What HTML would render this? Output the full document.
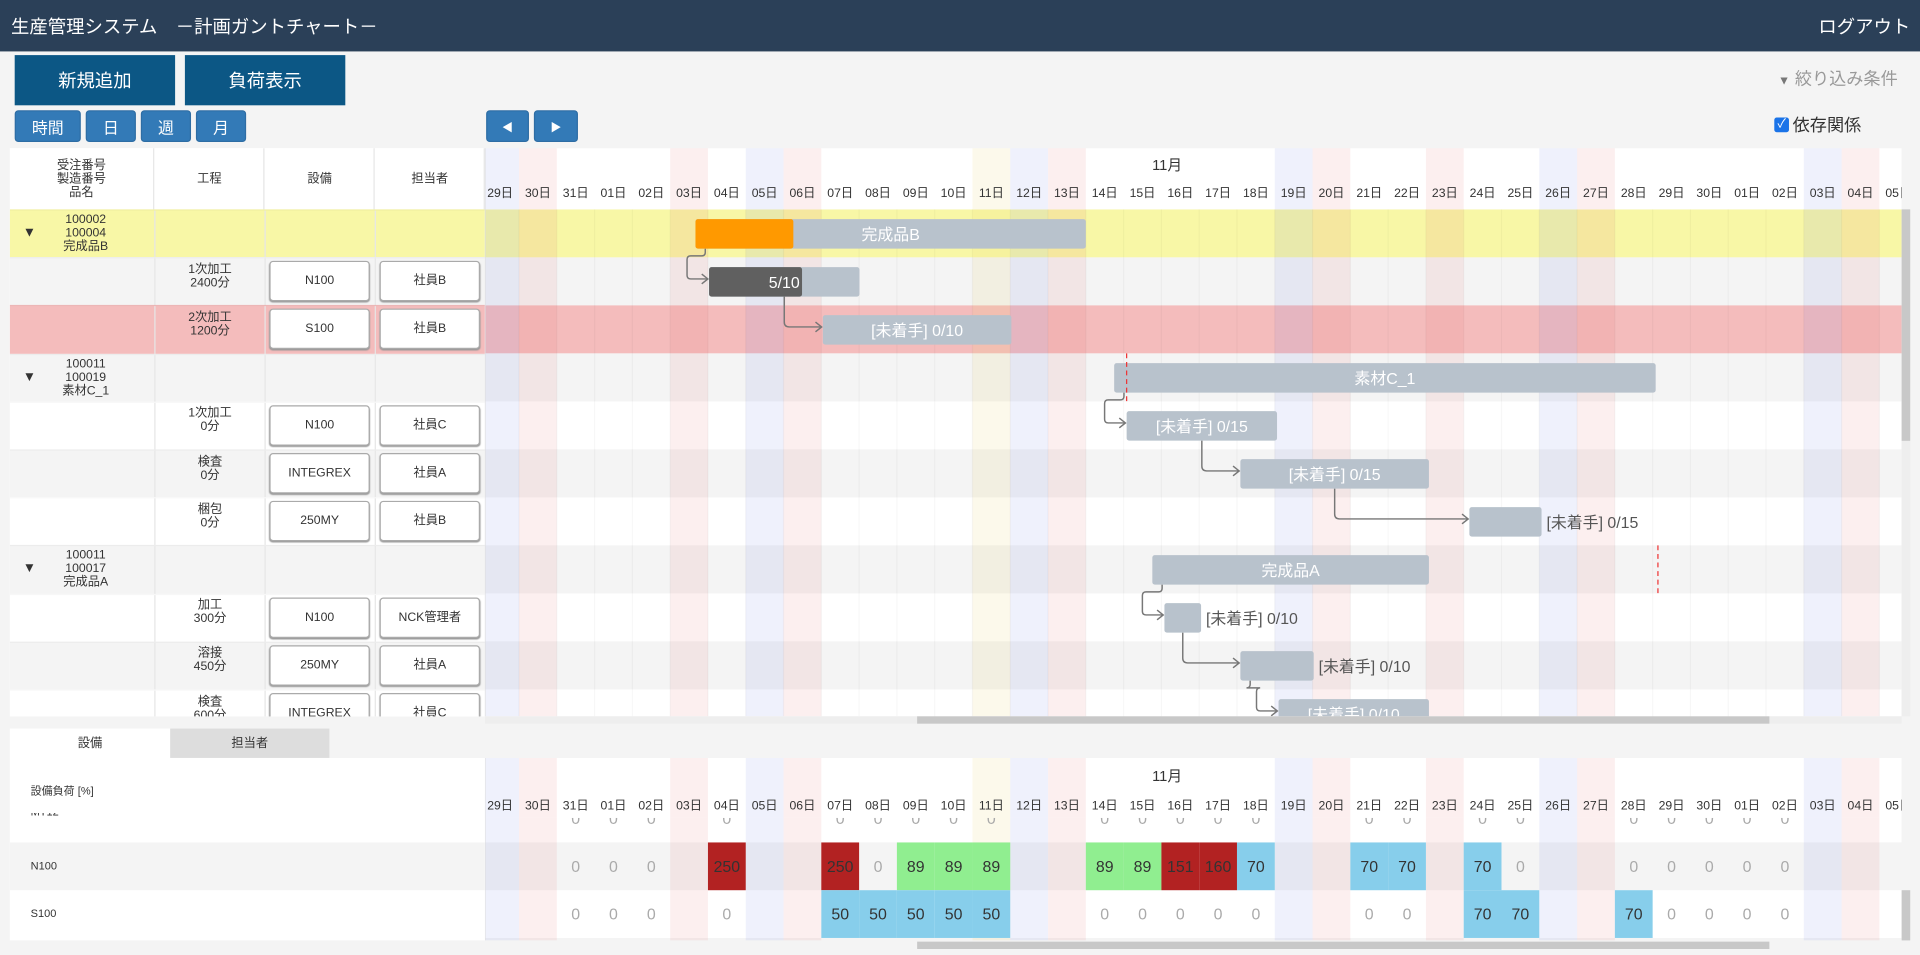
<!DOCTYPE html>
<html><head><meta charset="utf-8">
<style>
*{box-sizing:border-box;margin:0;padding:0}
html,body{width:1920px;height:955px;overflow:hidden;background:#f4f4f4}
body{font-family:"Liberation Sans","Noto Sans CJK JP",sans-serif;color:#333}
#wrap{position:absolute;left:0;top:0;width:1568px;height:780px;transform:scale(1.22449);transform-origin:0 0;background:#f4f4f4}
.abs{position:absolute}
.topbar{left:0;top:0;width:1568px;height:42px;background:#2b4058;color:#fff}
.bigbtn{background:#0c5785;color:#fff;font-size:15px;display:flex;align-items:center;justify-content:center;top:45px;height:41px}
.smbtn{background:#337ab7;color:#fff;font-size:13px;display:flex;align-items:center;justify-content:center;top:90px;height:26px;border-radius:3px;border:1px solid #2e6da4}
.cell{display:flex;align-items:center;justify-content:center;text-align:center;font-size:10px;line-height:11px;color:#333}
.inp{background:#fff;border:1px solid #aaa;border-radius:3px;font-size:10px;display:flex;align-items:center;justify-content:center;box-shadow:0 1px 1px #999}
</style></head><body>
<div id="wrap">
<div class="abs topbar">
  <div class="abs" style="left:9px;top:11px;font-size:15px">生産管理システム　－計画ガントチャート－</div>
  <div class="abs" style="right:8px;top:11px;font-size:15px">ログアウト</div>
</div>
<div class="abs bigbtn" style="left:12px;width:131px">新規追加</div>
<div class="abs bigbtn" style="left:151px;width:131px">負荷表示</div>
<div class="abs smbtn" style="left:12px;width:54px">時間</div>
<div class="abs smbtn" style="left:70px;width:41px">日</div>
<div class="abs smbtn" style="left:115px;width:41px">週</div>
<div class="abs smbtn" style="left:160px;width:41px">月</div>
<div class="abs smbtn" style="left:397px;width:35px;font-size:9px">◀</div>
<div class="abs smbtn" style="left:436px;width:36px;font-size:9px">▶</div>
<div class="abs" style="left:1452px;top:54px;font-size:14px;color:#999"><span style="font-size:10px;color:#777">▼</span> 絞り込み条件</div>
<div class="abs" style="left:1449px;top:92px;font-size:14px;color:#333;display:flex;align-items:center"><span style="display:inline-block;width:12px;height:12px;background:#1a73e8;border-radius:2px;color:#fff;font-size:10px;line-height:12px;text-align:center;margin-right:3px">✓</span>依存関係</div>

<div id="left" class="abs" style="left:8px;top:121px;width:388px;height:464px;background:#fff;overflow:hidden"></div>
<svg id="gantt" class="abs" style="left:0;top:0" width="1568" height="780"></svg>
<div class="abs" style="left:396px;top:585px;width:1157px;height:6px;background:#eee"></div>
<div class="abs" style="left:749px;top:585px;width:696px;height:6px;background:#c8c8c8"></div>
<div class="abs" style="left:1553px;top:171px;width:7px;height:414px;background:#eee"></div>
<div class="abs" style="left:1553px;top:171px;width:7px;height:189px;background:#c8c8c8"></div>
<div class="abs cell" style="left:8px;top:595px;width:131px;height:24px;background:#fff;font-size:10px">設備</div>
<div class="abs cell" style="left:139px;top:595px;width:130px;height:24px;background:#ddd;font-size:10px">担当者</div>
<div class="abs" style="left:8px;top:619px;width:388px;height:149px;background:#fff">
  <div class="abs" style="left:17px;top:20px;font-size:9px">設備負荷 [%]</div>
  <div class="abs" style="left:0;top:69px;width:388px;height:39px;background:#f4f4f4"></div>
  <div class="abs" style="left:17px;top:45px;font-size:9px;height:4px;overflow:hidden"><div style="margin-top:-6px">MT12</div></div>
  <div class="abs" style="left:17px;top:83px;font-size:9px">N100</div>
  <div class="abs" style="left:17px;top:122px;font-size:9px">S100</div>
</div>
<div class="abs" style="left:749px;top:769px;width:696px;height:6px;background:#c8c8c8"></div>
<div class="abs" style="left:1553px;top:727px;width:7px;height:41px;background:#c8c8c8"></div>
</div>

<script>
const dayLabels=["29日","30日","31日","01日","02日","03日","04日","05日","06日","07日","08日","09日","10日","11日","12日","13日","14日","15日","16日","17日","18日","19日","20日","21日","22日","23日","24日","25日","26日","27日","28日","29日","30日","01日","02日","03日","04日","05日"];
const dayTypes=["sat","sun","","","","hol","","sat","sun","","","","","today","sat","sun","","","","","","sat","sun","","","hol","","","sat","sun","","","","","","sat","sun",""];
const monthLabel="11月";
const rowKinds=["groupY","gray","taskR","gray","white","gray","white","gray","white","gray","white"];
const rowCol1=[["100002","100004","完成品B"],"","",["100011","100019","素材C_1"],"","","",["100011","100017","完成品A"],"","",""];
const rowProc=["",["1次加工","2400分"],["2次加工","1200分"],"",["1次加工","0分"],["検査","0分"],["梱包","0分"],"",["加工","300分"],["溶接","450分"],["検査","600分"]];
const rowEquip=["","N100","S100","","N100","INTEGREX","250MY","","N100","250MY","INTEGREX"];
const rowStaff=["","社員B","社員B","","社員C","社員A","社員B","","NCK管理者","社員A","社員C"];
const barRows=[0,1,2,3,4,5,6,7,8,9,10];
const barStart=[5.67,6.03,9.04,16.75,17.08,20.09,26.15,17.76,18.08,20.09,21.1];
const barEnd=[16.0,10.01,14.03,31.08,21.06,25.08,28.06,25.08,19.05,22.03,25.08];
const barProgress=[8.26,8.49,null,null,null,null,null,null,null,null,null];
const barLabels=["完成品B","5/10","[未着手] 0/10","素材C_1","[未着手] 0/15","[未着手] 0/15","[未着手] 0/15","完成品A","[未着手] 0/10","[未着手] 0/10","[未着手] 0/10"];
const links=[[0,1],[1,2],[3,4],[4,5],[5,6],[7,8],[8,9],[9,10]];
const deadlineDays=[17.08,31.14];
const deadlineRows=[3,7];
const loadMT12=[null,null,0,0,0,null,0,null,null,0,0,0,0,0,null,null,0,0,0,0,0,null,null,0,0,null,0,0,null,null,0,0,0,0,0,null,null,null];
const loadN100=[null,null,0,0,0,null,250,null,null,250,0,89,89,89,null,null,89,89,151,160,70,null,null,70,70,null,70,0,null,null,0,0,0,0,0,null,null,null];
const loadS100=[null,null,0,0,0,null,0,null,null,50,50,50,50,50,null,null,0,0,0,0,0,null,null,0,0,null,70,70,null,null,70,0,0,0,0,null,null,null];

const X0=393, DW=30.86, GL=396, GR=1553;
const xd=d=>X0+d*DW;
const ROW0=171, RH=39.2;
const yr=r=>ROW0+r*RH;
const NS="http://www.w3.org/2000/svg";
const svg=document.getElementById('gantt');
function mk(tag,attrs,parent){const e=document.createElementNS(NS,tag);for(const k in attrs)e.setAttribute(k,attrs[k]);(parent||svg).appendChild(e);return e;}
const defs=mk('defs',{});
const cp=mk('clipPath',{id:'cg'},defs);mk('rect',{x:GL,y:121,width:GR-GL,height:464},cp);
const cp2=mk('clipPath',{id:'cl'},defs);mk('rect',{x:GL,y:619,width:GR-GL,height:149},cp2);
const g=mk('g',{'clip-path':'url(#cg)'});
const gl=mk('g',{'clip-path':'url(#cl)'});





const rowBg={groupY:'#f8f7a6',taskR:'#f4bcbc',gray:'#f4f4f4',white:'#fff'};
function stripeFill(t){return t==='sat'?'rgba(110,130,230,0.11)':(t==='sun'||t==='hol')?'rgba(230,110,110,0.11)':t==='today'?'rgba(235,215,110,0.14)':null;}

function drawHeader(parent,top,h,monthY,dayY){
  mk('rect',{x:GL,y:top,width:GR-GL,height:h,fill:'#fff'},parent);
  dayLabels.forEach((l,i)=>{
    const f=stripeFill(dayTypes[i]);
    if(f){const r=mk('rect',{x:xd(i),y:top,width:DW,height:h,fill:f},parent);
      
      }
    const t=mk('text',{x:xd(i)+DW/2,y:dayY,'font-size':10,'text-anchor':'middle',fill:'#333'},parent);t.textContent=l;
    
    
  });
  const m=mk('text',{x:xd(18.15),y:monthY,'font-size':12,'text-anchor':'middle',fill:'#333'},parent);m.textContent=monthLabel;
  
  
}

rowKinds.forEach((k,r)=>{
  const rc=mk('rect',{x:GL,y:yr(r),width:GR-GL,height:RH,fill:rowBg[k]},g);
  
  
});
dayLabels.forEach((l,i)=>{
  const f=stripeFill(dayTypes[i]);
  if(f){const r=mk('rect',{x:xd(i),y:171,width:DW,height:414,fill:f},g);
    
    }
  mk('line',{x1:xd(i)+DW,y1:171,x2:xd(i)+DW,y2:585,stroke:'rgba(0,0,0,0.03)'},g);
});
drawHeader(g,121,50,139,161);
mk('line',{x1:GL,y1:121,x2:GL,y2:585,stroke:'#ddd'},g);

links.forEach(([a,b])=>{
  const ps=xd(barStart[a]),pe=xd(barEnd[a]),cs=xd(barStart[b]);
  const pyb=yr(barRows[a])+8+24, cy=yr(barRows[b])+RH/2-2;
  const mid=(ps+pe)/2;
  let d;
  if(mid+4<cs){d=`M${mid},${pyb} V${cy-4} q0,4 4,4 H${cs-1}`;}
  else{const dx=ps+8, jx=cs-18, jy=pyb+6;
    d=`M${dx},${pyb} V${jy-3} q0,3 -3,3 H${jx+3} q-3,0 -3,3 V${cy-3} q0,3 3,3 H${cs-1}`;}
  const p=mk('path',{d,fill:'none',stroke:'#777','stroke-width':1.2},g);
  
  
  const ah=mk('path',{d:`M${cs-6},${cy-4} L${cs-1},${cy} L${cs-6},${cy+4}`,fill:'none',stroke:'#777','stroke-width':1.2},g);
  
  
});
barRows.forEach((r,i)=>{
  const x1=xd(barStart[i]),x2=xd(barEnd[i]),y=yr(r)+8;
  const b=mk('rect',{x:x1,y,width:x2-x1,height:24,rx:2,fill:'#b8c2cc'},g);
  
  
  if(barProgress[i]!=null){
    const pc=mk('rect',{x:x1,y,width:xd(barProgress[i])-x1,height:24,rx:2,fill:i===0?'#ff9900':'#606060'},g);
    
    
  }
  const w=x2-x1, inside=w>100;
  const t=mk('text',{x:inside?(x1+x2)/2:x2+4,y:y+17,'font-size':13,'text-anchor':inside?'middle':'start',fill:inside?'#fff':'#555'},g);
  t.textContent=barLabels[i];
  
  
});
deadlineDays.forEach((d,i)=>{
  const l=mk('line',{x1:xd(d),y1:yr(deadlineRows[i]),x2:xd(d),y2:yr(deadlineRows[i])+RH,stroke:'#e33','stroke-width':1,'stroke-dasharray':'4,3'},g);
  
  
});

const loadRows=[loadMT12,loadN100,loadS100];
const LROW0=649, LRH=39;
loadRows.forEach((vals,r)=>{
  mk('rect',{x:GL,y:LROW0+r*LRH,width:GR-GL,height:LRH,fill:r===1?'#f4f4f4':'#fff'},gl);
});
dayLabels.forEach((l,i)=>{
  const f=stripeFill(dayTypes[i]);
  if(f){const r=mk('rect',{x:xd(i),y:649,width:DW,height:119,fill:f},gl);
    
    }
});
loadRows.forEach((vals,r)=>{
  const y=LROW0+r*LRH;
  vals.forEach((v,i)=>{
    if(v==null)return;
    const col=v>100?'#b22222':v>=80?'#90ee90':v>0?'#87ceeb':null;
    if(col){const c=mk('rect',{x:xd(i),y,width:DW,height:LRH,fill:col},gl);
      
      }
    const t=mk('text',{x:xd(i)+DW/2,y:y+24,'font-size':13,'text-anchor':'middle',fill:col?'#333':'#aaa'},gl);
    t.textContent=v;
    
    
  });
});
drawHeader(gl,619,49,638,661);
mk('line',{x1:GL,y1:619,x2:GL,y2:768,stroke:'#ddd'},gl);

const left=document.getElementById('left');
const colX=[0,119,209,299],colW=[118,89,89,89];
function div(style,html,parent,name,inter){const d=document.createElement('div');d.className='abs cell';d.style.cssText=style;d.innerHTML=html;parent.appendChild(d);return d;}
const heads=["受注番号<br>製造番号<br>品名","工程","設備","担当者"];
heads.forEach((h,i)=>div(`left:${colX[i]}px;top:0;width:${colW[i]}px;height:50px;background:#fff;border-right:1px solid #e6e6e6`,h,left,'column-header','false'));
rowKinds.forEach((k,r)=>{
  const top=50+r*RH;
  const row=div(`left:0;top:${top}px;width:388px;height:${RH}px;background:${rowBg[k]};border-top:1px solid rgba(0,0,0,0.03)`,'',left,'table-row','false');
  for(let c=1;c<4;c++){const s=document.createElement('div');s.className='abs';s.style.cssText=`left:${colX[c]-1}px;top:0;width:1px;height:${RH}px;background:#e6e6e6`;row.appendChild(s);}
  if(rowCol1[r]){
    div(`left:10px;top:${top}px;width:12px;height:${RH}px;font-size:11px`,'▼',left,'expand-toggle','true');
    div(`left:22px;top:${top}px;width:80px;height:${RH}px`,rowCol1[r].join('<br>'),left,'order-info','false');
  }
  if(rowProc[r]) div(`left:${colX[1]}px;top:${top}px;width:89px;height:${RH-8}px`,rowProc[r].join('<br>'),left,'process-info','false');
  if(rowEquip[r]) div(`left:212px;top:${top+3}px;width:82px;height:33px`,rowEquip[r],left,'equipment-select','true').classList.add('inp');
  if(rowStaff[r]) div(`left:302px;top:${top+3}px;width:82px;height:33px`,rowStaff[r],left,'staff-select','true').classList.add('inp');
});
</script>
</body></html>
